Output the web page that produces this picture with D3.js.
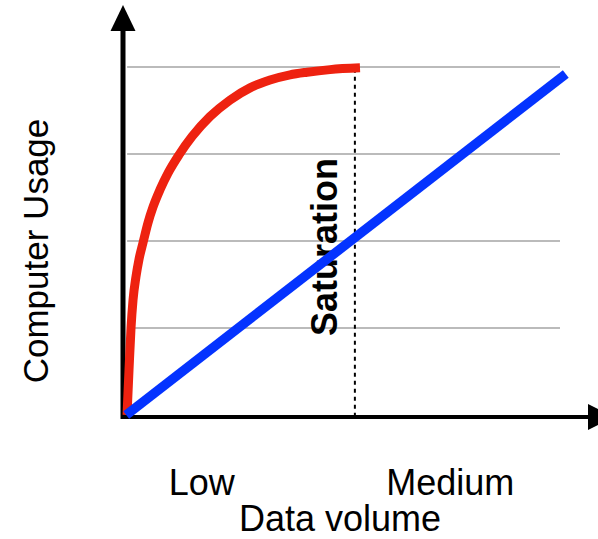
<!DOCTYPE html>
<html>
<head>
<meta charset="utf-8">
<script src="https://cdn.jsdelivr.net/npm/d3@7"></script>
<style>
  body { margin: 0; background: #fff; }
  text { font-family: 'Liberation Sans', Arial, Helvetica, sans-serif; fill: #000; }
</style>
</head>
<body>
<svg id="chart"></svg>
<script>
'use strict';
// data (x: 0-100 data volume, y: 0-4 usage)
var redX = [0.68, 1.13, 1.58, 2.03, 2.70, 3.38, 4.28, 5.41, 6.53, 8.11, 9.91, 12.39, 15.32, 19.37, 23.87, 28.38, 32.88, 37.39, 41.22, 46.40, 53.15];
var redY = [0, 0.52, 1.00, 1.32, 1.59, 1.79, 1.98, 2.21, 2.39, 2.59, 2.78, 2.99, 3.20, 3.43, 3.62, 3.76, 3.85, 3.91, 3.94, 3.97, 3.99];
var blueX = [0.5, 99.5];
var blueY = [0, 3.92];
var gridLevels = [1, 2, 3, 4];
var saturationX = 52;
var xLabels = ['Low', 'Medium'];
var xLabelAt = [17.5, 73.5];

var width = 598,
    height = 539;

var svg = d3.select('#chart')
    .attr('width', width)
    .attr('height', height);

var x = d3.scaleLinear().domain([0, 100]).range([124, 568]);
var y = d3.scaleLinear().domain([0, 4]).range([415, 67]);

// grid
svg.selectAll('.grid')
    .data(gridLevels)
    .enter()
    .append('line')
    .attr('class', 'grid')
    .attr('x1', x(0.7))
    .attr('x2', x(98.2))
    .attr('y1', function(d){return y(d);})
    .attr('y2', function(d){return y(d);})
    .attr('stroke', '#bbbbbb')
    .attr('stroke-width', 2);

// saturation marker
svg.append('line')
    .attr('x1', x(saturationX))
    .attr('x2', x(saturationX))
    .attr('y1', y(3.98))
    .attr('y2', y(0))
    .attr('stroke', '#000')
    .attr('stroke-width', 2)
    .attr('stroke-dasharray', '4,4');

svg.append('text')
    .text('Saturation')
    .attr('transform', 'translate(337,247) rotate(-90)')
    .attr('text-anchor', 'middle')
    .attr('font-weight', 'bold')
    .attr('font-size', 36);

// axes with arrows
svg.append('line')
    .attr('x1', 123).attr('x2', 123)
    .attr('y1', 419).attr('y2', 28)
    .attr('stroke', '#000').attr('stroke-width', 5);
svg.append('path')
    .attr('d', 'M110.5,31 L123,5 L135.5,31 Z')
    .attr('fill', '#000');
svg.append('line')
    .attr('x1', 121).attr('x2', 590)
    .attr('y1', 417).attr('y2', 417)
    .attr('stroke', '#000').attr('stroke-width', 4);
svg.append('path')
    .attr('d', 'M588,404 L614,417 L588,430 Z')
    .attr('fill', '#000');

// lines
var line = d3.line()
    .x(function(d){return x(d[0]);})
    .y(function(d){return y(d[1]);})
    .curve(d3.curveMonotoneX);

svg.append('path')
    .datum(d3.zip(redX, redY))
    .attr('d', line)
    .attr('fill', 'none')
    .attr('stroke', '#ee2210')
    .attr('stroke-width', 9);

svg.append('path')
    .datum(d3.zip(blueX, blueY))
    .attr('d', line)
    .attr('fill', 'none')
    .attr('stroke', '#0433ff')
    .attr('stroke-width', 9.5);

// labels
svg.selectAll('.xlabel')
    .data(xLabels)
    .enter()
    .append('text')
    .attr('class', 'xlabel')
    .text(function(d){return d;})
    .attr('x', function(d, i){return x(xLabelAt[i]);})
    .attr('y', 495)
    .attr('text-anchor', 'middle')
    .attr('font-size', 36);

svg.append('text')
    .text('Data volume')
    .attr('x', 340)
    .attr('y', 531)
    .attr('text-anchor', 'middle')
    .attr('font-size', 36);

svg.append('text')
    .text('Computer Usage')
    .attr('transform', 'translate(48,251) rotate(-90)')
    .attr('text-anchor', 'middle')
    .attr('font-size', 35);
</script>
</body>
</html>
